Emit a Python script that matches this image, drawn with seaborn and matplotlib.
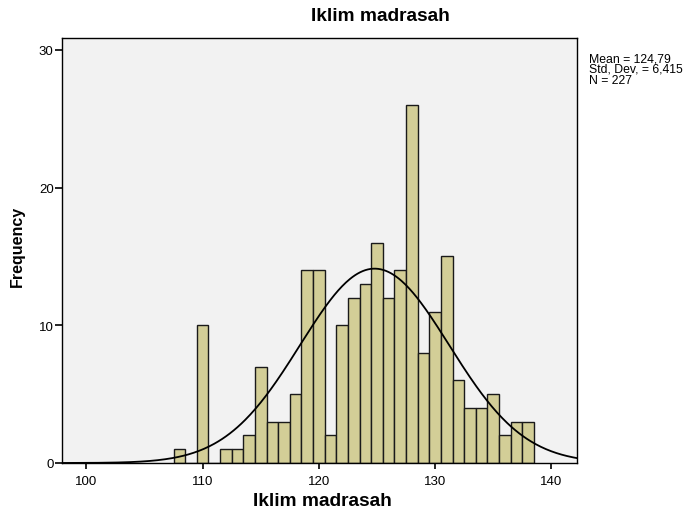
import numpy as np
import matplotlib
matplotlib.use("Agg")
import matplotlib.pyplot as plt
import seaborn as sns

# scores (bin centres) and how many pupils got each one
scores = [108, 109, 110, 111, 112, 113, 114, 115, 116, 117, 118, 119, 120,
          121, 122, 123, 124, 125, 126, 127, 128, 129, 130, 131, 132, 133,
          134, 135, 136, 137, 138]
counts = [1, 0, 10, 0, 1, 1, 2, 7, 3, 3, 5, 14, 14,
          2, 10, 12, 13, 16, 12, 14, 26, 8, 11, 15, 6, 4,
          4, 5, 2, 3, 3]

mean_val = 124.79
sd_val = 6.415
n_val = 227
x_ticks = [100, 110, 120, 130, 140]
y_ticks = [0, 10, 20, 30]

sns.set_style("white")
plt.rcParams["font.family"] = ["Liberation Sans", "DejaVu Sans"]
plt.rcParams["text.color"] = "black"
plt.rcParams["axes.labelcolor"] = "black"

W, H = 692, 510
fig = plt.figure(figsize=(W / 100, H / 100), dpi=100)
ax = fig.add_axes([62 / W, 46 / H, (577 - 62) / W, (464 - 39) / H])
ax.set_facecolor("#F2F2F2")

sns.histplot(x=scores, weights=counts, discrete=True, ax=ax,
             color="#D3CE97", alpha=1, edgecolor="#1a1a1a", linewidth=1)

# normal curve scaled to counts (bin width 1)
xs = np.linspace(97.9, 142.2, 400)
ys = n_val / (sd_val * np.sqrt(2 * np.pi)) * np.exp(-0.5 * ((xs - mean_val) / sd_val) ** 2)
sns.lineplot(x=xs, y=ys, ax=ax, color="black", linewidth=1.3)

ax.set_xlim(97.9, 142.2)
ax.set_ylim(0, 30.87)
ax.set_xticks(x_ticks)
ax.set_yticks(y_ticks)
ax.tick_params(axis="both", direction="out", width=1.2, labelsize=9.5,
               colors="black", bottom=True, left=True)
ax.tick_params(axis="x", length=4.5, pad=4)
ax.tick_params(axis="y", length=5, pad=1)
for s in ax.spines.values():
    s.set_color("black")
    s.set_linewidth(1)
ax.set_xlabel("")
ax.set_ylabel("")

# SPSS-style labels placed in figure pixels
fig.text(380 / W, 1 - 21 / H, "Iklim madrasah", fontsize=13.8,
         fontweight="bold", ha="center", va="baseline")
fig.text(322 / W, 1 - 506 / H, "Iklim madrasah", fontsize=13.8,
         fontweight="bold", ha="center", va="baseline")
fig.text(17 / W, 1 - 246 / H, "Frequency", fontsize=11.5,
         fontweight="bold", ha="center", va="center", rotation=90)

fig.text(589 / W, 1 - 53 / H,
         f"Mean = {mean_val:.2f}".replace(".", ",") + "\n"
         + f"Std. Dev. = {sd_val:.3f}".replace(".", ",") + "\n"
         + f"N = {n_val}",
         fontsize=8.8, va="top", ha="left", linespacing=0.88)

fig.savefig("out.png", dpi=100)
